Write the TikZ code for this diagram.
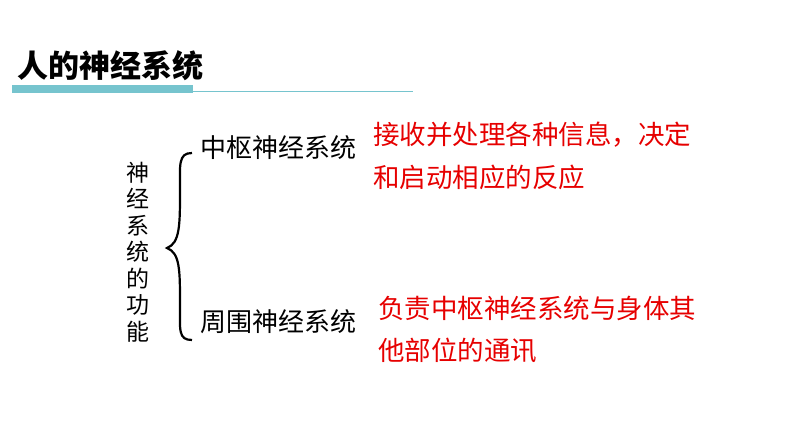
\documentclass[tikz,border=0pt]{standalone}
\usepackage{fontspec}
\setmainfont{Noto Sans CJK SC}
\definecolor{teal1}{RGB}{118,196,206}
\definecolor{redt}{RGB}{230,0,0}
\tikzset{
 blk/.style={font=\fontsize{26}{28}\selectfont, inner sep=0pt, anchor=west},
 red/.style={font=\fontsize{26.5}{28}\selectfont, inner sep=0pt, anchor=west, text=redt},
}
\begin{document}
\begin{tikzpicture}[x=1pt,y=-1pt]
\useasboundingbox (0,0) rectangle (794,447);
\node[inner sep=0pt, anchor=west, font=\fontsize{31}{32}\selectfont\bfseries] (title) at (17,66) {人的神经系统};
\fill[teal1] (12,85) rectangle (193,93);
\draw[teal1, line width=1.2pt] (193,91.5) -- (413,91.5);
\node[inner sep=0pt, font=\fontsize{23}{26.5}\selectfont, align=center, text width=26pt] (func) at (138,252) {神\\经\\系\\统\\的\\功\\能};
\draw[line width=2.2pt] (192,153) .. controls (178,153) and (180,165) .. (180,190)
 .. controls (180,225) and (180,243) .. (167,248)
 .. controls (180,253) and (180,270) .. (180,305)
 .. controls (180,330) and (178,340) .. (192,340);
\node[blk] (cns) at (200,148) {中枢神经系统};
\node[blk] (pns) at (200,322) {周围神经系统};
\node[red] (r1) at (373,135) {接收并处理各种信息，决定};
\node[red] (r2) at (373,177) {和启动相应的反应};
\node[red] (r3) at (378,308) {负责中枢神经系统与身体其};
\node[red] (r4) at (378,351) {他部位的通讯};
\end{tikzpicture}
\end{document}
